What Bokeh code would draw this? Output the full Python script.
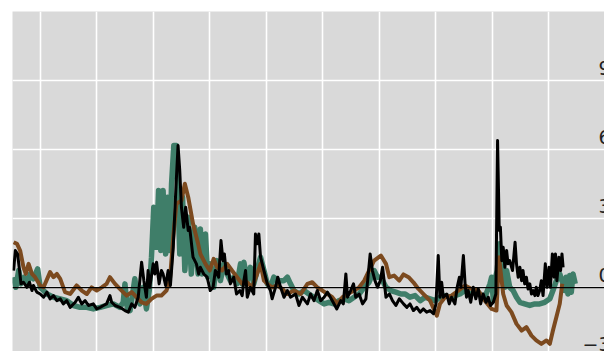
from bokeh.plotting import figure
from bokeh.models import Range1d, Span, FixedTicker, ColumnDataSource
from bokeh.core.properties import value
from bokeh.embed import file_html
from bokeh.resources import INLINE

# Series 1 (teal): decimal year / value
teal_year = [2003.06, 2003.14, 2003.24, 2003.32, 2003.44, 2003.55, 2003.65, 2003.76, 2003.91, 2004.00,
             2004.24, 2004.47, 2004.71, 2004.94, 2005.18, 2005.41, 2005.65, 2005.88, 2006.12, 2006.35,
             2006.59, 2006.82, 2006.94, 2007.00, 2007.08, 2007.18, 2007.29, 2007.35, 2007.44, 2007.53,
             2007.65, 2007.76, 2007.86, 2007.94, 2008.02, 2008.12, 2008.19, 2008.27, 2008.35, 2008.44,
             2008.51, 2008.59, 2008.65, 2008.73, 2008.82, 2008.94, 2009.04, 2009.12, 2009.24, 2009.35,
             2009.47, 2009.59, 2009.67, 2009.73, 2009.85, 2009.93, 2010.02, 2010.14, 2010.26, 2010.38,
             2010.50, 2010.62, 2010.73, 2010.85, 2010.97, 2011.09, 2011.15, 2011.21, 2011.33, 2011.44,
             2011.56, 2011.68, 2011.80, 2011.92, 2012.04, 2012.15, 2012.27, 2012.45, 2012.63, 2012.75,
             2012.86, 2012.98, 2013.16, 2013.34, 2013.51, 2013.69, 2013.87, 2014.05, 2014.22, 2014.40,
             2014.58, 2014.76, 2014.93, 2015.11, 2015.29, 2015.47, 2015.64, 2015.82, 2015.94, 2016.06,
             2016.24, 2016.41, 2016.59, 2016.77, 2016.92, 2017.09, 2017.27, 2017.45, 2017.62, 2017.80,
             2017.98, 2018.15, 2018.33, 2018.51, 2018.68, 2018.86, 2019.04, 2019.21, 2019.39, 2019.56,
             2019.74, 2019.92, 2019.98, 2020.04, 2020.09, 2020.18, 2020.25, 2020.33, 2020.45, 2020.51,
             2020.62, 2020.74, 2020.86, 2020.98, 2021.15, 2021.33, 2021.51, 2021.68, 2021.86, 2022.04,
             2022.15, 2022.27, 2022.39, 2022.51, 2022.56, 2022.62, 2022.68, 2022.74, 2022.80, 2022.86,
             2022.94]
teal_val = [0.45, 0.01, 0.74, 0.16, 0.45, 0.16, 0.59, 0.38, 0.81, 0.01,
            -0.28, -0.42, -0.49, -0.57, -0.78, -0.86, -0.86, -0.93, -0.86, -0.78,
            -0.71, -0.86, -0.64, 0.16, -0.86, -1.00, -0.13, 0.38, -0.42, -0.71,
            0.01, -0.93, -0.13, 1.32, 3.49, 1.75, 4.22, 1.61, 4.22, 1.46,
            3.93, 1.61, 4.51, 6.17, 6.17, 1.46, 3.93, 0.74, 3.06, 0.59,
            2.62, 0.59, 2.55, 0.59, 2.33, 0.45, 1.03, 0.01, 1.17, 0.30,
            1.03, 0.59, 0.30, 0.45, 0.16, 1.03, 0.16, 1.10, 0.30, 0.88,
            0.16, 0.74, 1.32, 0.74, 0.16, 0.01, 0.45, 0.30, 0.30, 0.45,
            0.16, -0.13, -0.28, -0.13, -0.28, -0.42, -0.57, -0.71, -0.64, -0.71,
            -0.57, -0.49, -0.57, -0.42, -0.28, 0.01, 0.23, 0.74, 0.45, 0.45,
            0.01, -0.13, -0.20, -0.28, -0.28, -0.42, -0.35, -0.57, -0.42, -0.49,
            -0.57, -0.42, -0.35, -0.42, -0.35, -0.28, -0.13, -0.28, -0.20, -0.28,
            -0.42, 0.16, 0.45, -0.57, 0.30, 0.74, 1.90, 1.03, 0.01, 0.74,
            0.01, -0.13, -0.42, -0.64, -0.71, -0.78, -0.71, -0.71, -0.64, -0.49,
            -0.13, 0.30, 0.59, 0.16, -0.13, 0.45, -0.28, 0.52, -0.20, 0.59,
            0.16]

# Series 2 (brown)
brown_year = [2003.06, 2003.18, 2003.29, 2003.41, 2003.49, 2003.59, 2003.71, 2003.82, 2004.00, 2004.12,
              2004.35, 2004.47, 2004.59, 2004.71, 2004.88, 2005.06, 2005.29, 2005.47, 2005.65, 2005.82,
              2006.00, 2006.18, 2006.35, 2006.47, 2006.65, 2006.82, 2007.06, 2007.24, 2007.41, 2007.59,
              2007.76, 2007.94, 2008.12, 2008.29, 2008.47, 2008.59, 2008.71, 2008.82, 2009.00, 2009.12,
              2009.24, 2009.41, 2009.59, 2009.67, 2009.85, 2010.00, 2010.14, 2010.26, 2010.44, 2010.62,
              2010.79, 2010.97, 2011.15, 2011.33, 2011.50, 2011.68, 2011.80, 2011.92, 2012.04, 2012.21,
              2012.39, 2012.57, 2012.75, 2012.98, 2013.22, 2013.46, 2013.63, 2013.81, 2013.99, 2014.17,
              2014.34, 2014.52, 2014.70, 2014.88, 2015.11, 2015.29, 2015.47, 2015.64, 2015.82, 2016.06,
              2016.24, 2016.36, 2016.53, 2016.71, 2016.86, 2017.04, 2017.21, 2017.39, 2017.62, 2017.80,
              2018.04, 2018.15, 2018.33, 2018.56, 2018.80, 2019.04, 2019.27, 2019.51, 2019.74, 2019.98,
              2020.15, 2020.24, 2020.39, 2020.51, 2020.68, 2020.86, 2021.04, 2021.21, 2021.39, 2021.56,
              2021.74, 2021.92, 2022.04, 2022.15, 2022.27, 2022.39, 2022.48]
brown_val = [1.97, 1.90, 1.61, 0.88, 0.59, 1.03, 0.59, 0.45, 0.09, 0.01,
             0.67, 0.45, 0.59, 0.38, -0.20, -0.28, 0.09, -0.13, -0.28, 0.01,
             -0.13, 0.01, 0.16, 0.45, 0.16, -0.06, -0.35, -0.20, -0.42, -0.64,
             -0.71, -0.49, -0.35, -0.35, -0.13, 0.30, 2.19, 3.64, 3.78, 4.51,
             3.93, 2.77, 1.90, 1.46, 1.03, 0.74, 1.25, 0.88, 0.74, 1.03,
             0.74, 0.45, 0.16, 0.23, 0.01, 0.59, 1.03, 0.30, 0.16, 0.01,
             0.09, -0.06, -0.28, -0.13, -0.28, 0.16, 0.23, 0.01, -0.13, -0.28,
             -0.42, -0.71, -0.42, -0.28, -0.13, 0.01, 0.30, 0.74, 1.17, 1.39,
             1.03, 0.45, 0.52, 0.30, 0.57, 0.45, 0.23, -0.06, -0.35, -0.57,
             -1.22, -0.71, -0.42, -0.35, -0.13, 0.09, -0.06, -0.13, -0.57, -0.93,
             -1.00, 1.32, -0.28, -0.78, -1.07, -1.58, -1.87, -1.72, -2.09, -2.30,
             -2.45, -2.30, -2.45, -1.87, -1.29, -0.71, 0.16]

# Series 3 (black)
black_year = [2003.06, 2003.12, 2003.20, 2003.27, 2003.32, 2003.41, 2003.53, 2003.62, 2003.71, 2003.76,
              2003.88, 2004.00, 2004.12, 2004.24, 2004.35, 2004.47, 2004.59, 2004.71, 2004.82, 2004.94,
              2005.06, 2005.24, 2005.35, 2005.47, 2005.59, 2005.71, 2005.88, 2006.00, 2006.12, 2006.24,
              2006.35, 2006.47, 2006.53, 2006.65, 2006.82, 2007.00, 2007.12, 2007.24, 2007.35, 2007.47,
              2007.59, 2007.67, 2007.76, 2007.82, 2007.88, 2008.00, 2008.06, 2008.12, 2008.21, 2008.29,
              2008.35, 2008.44, 2008.53, 2008.61, 2008.71, 2008.80, 2008.88, 2008.94, 2009.00, 2009.08,
              2009.15, 2009.24, 2009.29, 2009.41, 2009.53, 2009.61, 2009.67, 2009.79, 2009.91, 2010.02,
              2010.12, 2010.20, 2010.32, 2010.40, 2010.47, 2010.52, 2010.59, 2010.67, 2010.73, 2010.85,
              2010.95, 2011.07, 2011.15, 2011.21, 2011.27, 2011.33, 2011.44, 2011.56, 2011.62, 2011.68,
              2011.74, 2011.80, 2011.92, 2012.04, 2012.15, 2012.21, 2012.33, 2012.41, 2012.51, 2012.63,
              2012.75, 2012.86, 2013.04, 2013.16, 2013.28, 2013.46, 2013.57, 2013.69, 2013.81, 2013.93,
              2014.05, 2014.17, 2014.34, 2014.50, 2014.64, 2014.73, 2014.82, 2014.88, 2014.99, 2015.09,
              2015.17, 2015.29, 2015.41, 2015.53, 2015.68, 2015.76, 2015.85, 2015.94, 2016.04, 2016.12,
              2016.24, 2016.36, 2016.47, 2016.59, 2016.71, 2016.86, 2016.98, 2017.09, 2017.21, 2017.33,
              2017.45, 2017.56, 2017.68, 2017.80, 2017.92, 2018.01, 2018.09, 2018.15, 2018.21, 2018.27,
              2018.39, 2018.48, 2018.56, 2018.68, 2018.76, 2018.84, 2018.89, 2018.98, 2019.04, 2019.09,
              2019.15, 2019.24, 2019.33, 2019.42, 2019.51, 2019.59, 2019.68, 2019.78, 2019.86, 2019.94,
              2020.04, 2020.13, 2020.19, 2020.25, 2020.29, 2020.34, 2020.39, 2020.45, 2020.51, 2020.56,
              2020.62, 2020.72, 2020.81, 2020.86, 2020.92, 2020.98, 2021.04, 2021.09, 2021.15, 2021.21,
              2021.27, 2021.33, 2021.39, 2021.45, 2021.51, 2021.56, 2021.62, 2021.68, 2021.74, 2021.80,
              2021.88, 2021.94, 2022.01, 2022.06, 2022.13, 2022.19, 2022.24, 2022.29, 2022.36, 2022.42,
              2022.47, 2022.51]
black_val = [0.74, 1.61, 1.46, 0.74, 0.16, 0.23, 0.01, 0.23, -0.13, 0.09,
             -0.20, -0.28, -0.42, -0.20, -0.49, -0.35, -0.57, -0.49, -0.71, -0.57,
             -0.86, -0.64, -0.42, -0.71, -0.57, -0.78, -0.71, -0.93, -0.86, -0.78,
             -0.71, -0.35, -0.64, -0.78, -0.86, -1.00, -1.07, -0.71, -0.86, -0.42,
             1.10, 0.30, -0.42, 0.74, 0.01, 1.03, 0.59, 1.10, 0.16, 0.74,
             0.59, 0.09, 0.74, 0.09, 1.75, 4.22, 6.17, 5.09, 3.49, 2.62,
             3.49, 2.48, 2.62, 1.32, 1.03, 0.59, 0.88, 0.59, 0.45, -0.13,
             0.01, 0.74, 0.45, 2.04, 1.17, 1.46, 0.59, 0.74, 0.16, 0.45,
             -0.28, -0.13, -0.35, 0.30, 0.74, -0.42, 0.01, -0.28, 2.33, 1.90,
             2.33, 1.32, 0.74, 0.16, -0.13, -0.49, 0.01, 0.45, 0.01, -0.42,
             -0.13, -0.42, -0.28, -0.78, -0.42, -0.71, -0.28, -0.57, -0.13, -0.57,
             -0.42, -0.20, -0.57, -0.93, -0.57, -0.71, 0.59, -0.42, -0.13, 0.16,
             -0.42, -0.28, -0.71, -0.49, 1.46, 0.74, 0.30, 0.01, 0.30, 0.88,
             -0.42, -0.28, -0.57, -0.78, -0.49, -0.71, -0.86, -0.71, -1.00, -0.86,
             -1.07, -0.93, -1.07, -1.00, -1.14, -0.71, 1.39, -0.42, 0.23, -0.42,
             -0.28, -0.71, -0.42, -0.71, 0.01, 0.45, 0.01, 1.39, 0.16, -0.42,
             -0.13, -0.64, 0.01, -0.49, -0.06, -0.71, -0.28, -0.64, -0.42, -0.78,
             -0.64, -0.28, 6.39, 2.48, 2.62, 1.17, 1.75, 0.88, 1.61, 1.03,
             1.17, 0.74, 1.97, 1.03, 0.45, 0.88, 0.30, 0.74, 0.16, 0.45,
             -0.06, 0.16, -0.28, -0.13, -0.35, 0.01, -0.35, -0.13, 0.30, -0.35,
             1.03, 0.01, 0.88, 0.01, 1.46, 0.45, 1.46, 0.30, 1.32, 0.74,
             1.46, 0.88]

# Grid ticks
x_ticks = [2004, 2006, 2008, 2010, 2012, 2014, 2016, 2018, 2020, 2022]
y_ticks = [0, 3, 6, 9, 12]
side_labels = ["9", "6", "3", "0", "\u22123"]
side_label_vals = [9, 6, 3, 0, -3]

x_start, x_end = 2003.02, 2023.975

p = figure(width=604, height=351, output_backend="svg", toolbar_location=None,
           x_range=Range1d(x_start, x_end), y_range=Range1d(-2.78, 12.0),
           min_border_left=12, min_border_top=11, min_border_right=0, min_border_bottom=0,
           background_fill_color="#d9d9d9", border_fill_color="white",
           outline_line_color=None)

p.xaxis.visible = False
p.yaxis.visible = False

p.xgrid.ticker = FixedTicker(ticks=x_ticks)
p.ygrid.ticker = FixedTicker(ticks=y_ticks)
for g in (p.xgrid, p.ygrid):
    g.grid_line_color = "white"
    g.grid_line_width = 1.6

p.add_layout(Span(location=0, dimension="width", line_color="black", line_width=1.3))

p.line(teal_year, teal_val, line_color="#3f7e69", line_width=5.5, line_join="round")
p.line(brown_year, brown_val, line_color="#7c4a1f", line_width=4, line_join="round")
p.line(black_year, black_val, line_color="black", line_width=3, line_join="round")

# tick labels of the neighbouring value scale, overlapping the right edge
lab_src = ColumnDataSource(dict(x=[x_end] * len(side_labels), y=side_label_vals, t=side_labels))
p.text(x="x", y="y", text="t", source=lab_src, text_align="right", text_baseline="middle",
       x_offset=6, y_offset=-13, text_font=value("DejaVu Sans"), text_font_size="19px",
       text_color="#222222")

open("out.html", "w").write(file_html(p, INLINE))
